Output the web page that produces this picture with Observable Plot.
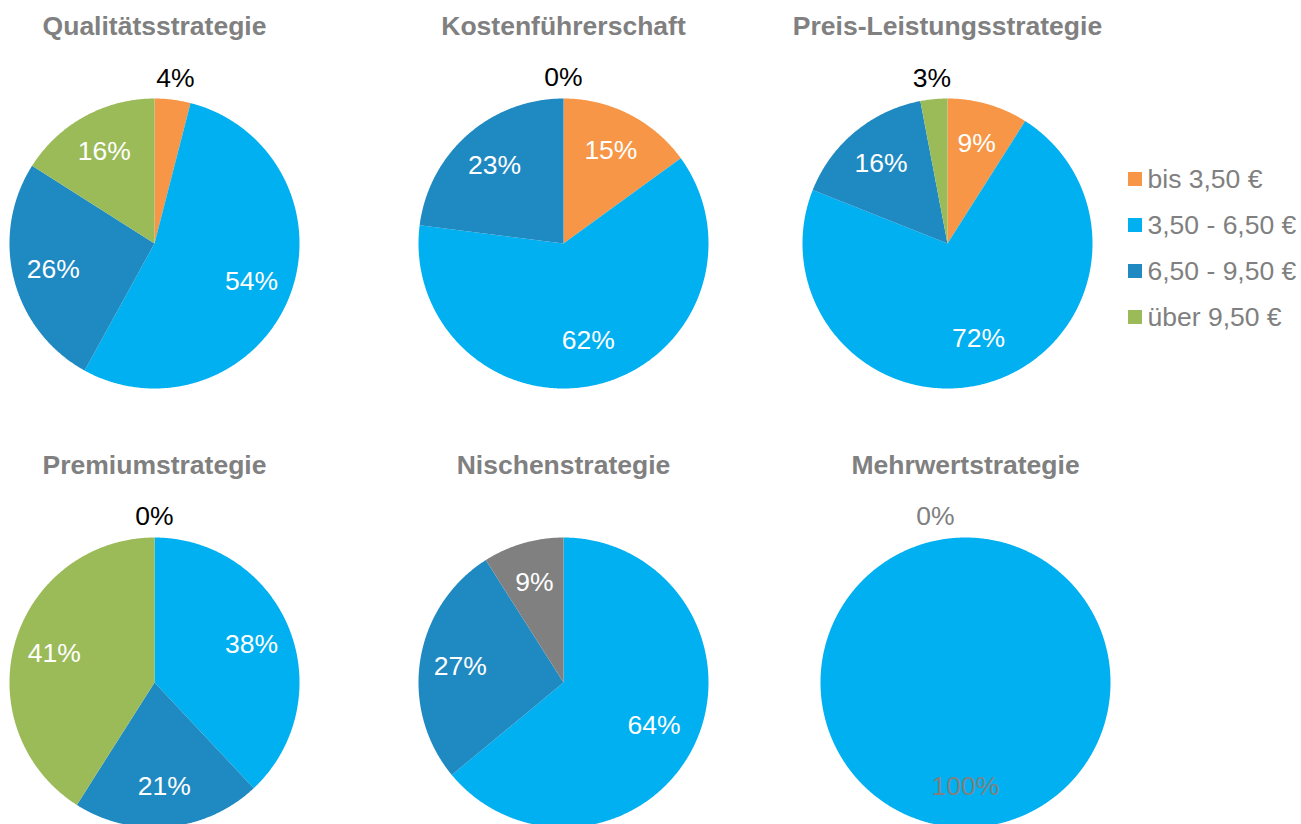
<!DOCTYPE html>
<html><head><meta charset="utf-8">
<script src="https://cdn.jsdelivr.net/npm/d3@7"></script>
<script src="https://cdn.jsdelivr.net/npm/@observablehq/plot@0.6"></script>
<style>html,body{margin:0;padding:0;background:#fff;overflow:hidden}</style>
</head><body><div id="chart"></div>
<script>
// ---- data ----
const categories = ["bis 3,50 €", "3,50 - 6,50 €", "6,50 - 9,50 €", "über 9,50 €", "keine Angabe"];
const legendCategories = ["bis 3,50 €", "3,50 - 6,50 €", "6,50 - 9,50 €", "über 9,50 €"];
const categoryColors = ["#F79646", "#00B0F0", "#1F89C2", "#9BBB59", "#808080"];
const strategies = ["Qualitätsstrategie", "Kostenführerschaft", "Preis-Leistungsstrategie", "Premiumstrategie", "Nischenstrategie", "Mehrwertstrategie"];
const qualitaet = [4, 54, 26, 16, null];
const kosten = [15, 62, 23, 0, null];
const preisLeistung = [9, 72, 16, 3, null];
const premium = [0, 38, 21, 41, null];
const nische = [null, 64, 27, null, 9];
const mehrwert = [null, 100, null, 0, null];
const seriesValues = [qualitaet, kosten, preisLeistung, premium, nische, mehrwert];

// ---- layout ----
const W = 1301, H = 824, R = 145;
const centers = [[154, 243], [563, 243], [947, 243], [154, 682], [563, 682], [965, 682]];
const insideLabelColor = ["#fff", "#fff", "#fff", "#fff", "#fff", "#808080"];
const outsideLabelColor = ["#000", "#000", "#000", "#000", "#000", "#808080"];
const zeroLabelNudge = [0, 0, 0, 0, 0, -30];
const FONT = "Liberation Sans, Arial, sans-serif";
const FS = 26.5;

const slicePts = [];
const labels = [];
seriesValues.forEach((vals, p) => {
  const [cx, cy] = centers[p];
  let cum = 0;
  vals.forEach((v, i) => {
    if (v === null) return;
    const a0 = cum / 100 * 2 * Math.PI;
    const a1 = (cum + v) / 100 * 2 * Math.PI;
    cum += v;
    const id = p + "-" + i;
    if (v > 0) {
      slicePts.push({id, x: cx, y: cy, color: categoryColors[i]});
      const n = Math.max(2, Math.ceil((a1 - a0) / (Math.PI / 360)));
      for (let k = 0; k <= n; k++) {
        const a = a0 + (a1 - a0) * k / n;
        slicePts.push({id, x: cx + R * Math.sin(a), y: cy - R * Math.cos(a), color: categoryColors[i]});
      }
    }
    const mid = (a0 + a1) / 2;
    const inside = v >= 5;
    const r = inside ? (v >= 60 && v < 100 ? 0.69 * R : 0.72 * R) : R + 21;
    labels.push({
      x: cx + r * Math.sin(mid) + (v === 0 ? zeroLabelNudge[p] : 0),
      y: cy - r * Math.cos(mid),
      text: v + "%",
      color: inside ? insideLabelColor[p] : outsideLabelColor[p]
    });
  });
});

const titles = strategies.map((s, p) => ({text: s, x: centers[p][0], y: centers[p][1] - 217}));
const legend = legendCategories.map((c, i) => ({text: c, color: categoryColors[i], x: 1128, y: 179 + i * 46}));

const chart = Plot.plot({
  width: W, height: H, margin: 0,
  style: {fontFamily: FONT, background: "#fff"},
  x: {domain: [0, W], range: [0, W], axis: null},
  y: {domain: [0, H], range: [0, H], axis: null},
  color: {type: "identity"},
  marks: [
    Plot.line(slicePts, {x: "x", y: "y", z: "id", fill: "color", stroke: "none", curve: "linear-closed"}),
    Plot.text(labels, {x: "x", y: "y", text: "text", fill: "color", fontSize: FS, fontFamily: FONT}),
    Plot.text(titles, {x: "x", y: "y", text: "text", fill: "#808080", fontSize: FS, fontWeight: "bold", fontFamily: FONT}),
    Plot.rect(legend, {x1: "x", x2: d => d.x + 14, y1: d => d.y - 7, y2: d => d.y + 7, fill: "color"}),
    Plot.text(legend, {x: d => d.x + 19, y: "y", text: "text", fill: "#808080", fontSize: FS, textAnchor: "start", fontFamily: FONT})
  ]
});
document.getElementById("chart").appendChild(chart);
</script>
</body></html>
